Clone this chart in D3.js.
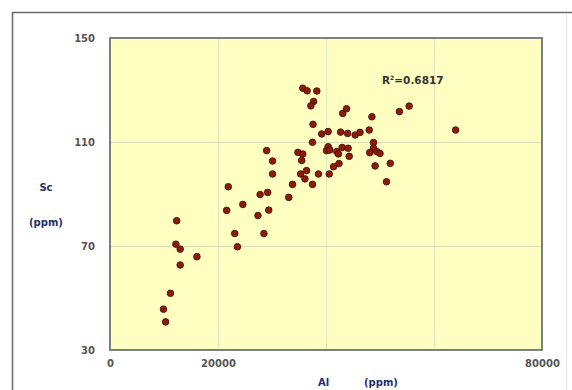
<!DOCTYPE html>
<html>
<head>
<meta charset="utf-8">
<script src="https://cdn.jsdelivr.net/npm/d3@7"></script>
<style>
  html, body { margin: 0; padding: 0; background: #ffffff; }
  svg { display: block; }
</style>
</head>
<body>
<svg id="chart" width="572" height="390"></svg>
<script>
// ---- Data ----
const alPpm = [9900, 10300, 11200, 12350, 12200, 13000, 13000, 16100,
  21900, 21600, 24600, 23100, 23600, 27400, 28500, 27800, 29200, 29400,
  33100, 33800, 30100, 30100, 29000, 34800, 35700, 36500, 38300, 37700,
  37200, 43800, 43100, 48500, 53600, 55400, 64000, 37600, 40400, 39200,
  42700, 44000, 45400, 46300, 48000, 37500, 40400, 40100, 40700, 43000,
  44100, 42000, 48800, 48800, 48100, 49400, 50000, 35700, 35500, 42300,
  44300, 41400, 42400, 49100, 51900, 36400, 35300, 36100, 38600, 40600,
  51200, 37500];
const scPpm = [45.7, 40.8, 51.8, 79.7, 70.7, 68.8, 62.7, 65.9,
  92.8, 83.7, 86.0, 74.8, 69.7, 81.7, 74.8, 89.8, 90.6, 83.8,
  88.7, 93.7, 97.7, 102.7, 106.7, 106.0, 130.7, 129.7, 129.6, 125.6,
  123.9, 122.8, 121.0, 119.7, 121.7, 123.8, 114.6, 116.8, 114.0, 113.1,
  113.8, 113.3, 112.7, 113.7, 114.6, 109.9, 108.2, 106.7, 106.9, 107.9,
  107.6, 106.3, 109.8, 107.6, 105.9, 106.3, 105.6, 105.4, 102.9, 105.4,
  104.5, 100.5, 101.7, 100.8, 101.8, 99.0, 97.7, 95.8, 97.7, 97.7,
  94.7, 93.7];
const xTickValues = [0, 20000, 40000, 60000, 80000];
const xTickLabels = ["0", "20000", "", "", "80000"];
const yTickValues = [30, 70, 110, 150];
const rSquaredText = "0.6817";

// ---- Layout ----
const svg = d3.select("#chart");
const plot = { left: 110, top: 38, right: 542, bottom: 350 };

const x = d3.scaleLinear().domain([0, 80000]).range([plot.left, plot.right]);
const y = d3.scaleLinear().domain([30, 150]).range([plot.bottom, plot.top]);

// outer frame
svg.append("rect").attr("x", 0).attr("y", 0).attr("width", 572).attr("height", 390).attr("fill", "#ffffff");
svg.append("line").attr("x1", 12).attr("x2", 572).attr("y1", 12.5).attr("y2", 12.5)
  .attr("stroke", "#6a6a6a").attr("stroke-width", 1.5);
svg.append("line").attr("x1", 12.5).attr("x2", 12.5).attr("y1", 12).attr("y2", 390)
  .attr("stroke", "#6a6a6a").attr("stroke-width", 1.5);
svg.append("line").attr("x1", 566.5).attr("x2", 566.5).attr("y1", 14).attr("y2", 390)
  .attr("stroke", "#e6e6e6").attr("stroke-width", 1);

// plot background
svg.append("rect")
  .attr("x", plot.left).attr("y", plot.top)
  .attr("width", plot.right - plot.left).attr("height", plot.bottom - plot.top)
  .attr("fill", "#ffffc2");

// gridlines
const grid = svg.append("g");
grid.selectAll(".hg").data(yTickValues.filter(v => v > 30 && v < 150)).enter()
  .append("line")
  .attr("x1", plot.left).attr("x2", plot.right)
  .attr("y1", d => y(d) + 0.5).attr("y2", d => y(d) + 0.5)
  .attr("stroke", "#dcdcb4").attr("stroke-width", 1);
grid.selectAll(".vg").data(xTickValues.filter(v => v > 0 && v < 80000)).enter()
  .append("line")
  .attr("y1", plot.top).attr("y2", plot.bottom)
  .attr("x1", d => x(d) + 0.5).attr("x2", d => x(d) + 0.5)
  .attr("stroke", "#e2e4bc").attr("stroke-width", 1);

// axes (labels only, lines drawn as frame)
const xAxis = d3.axisBottom(x).tickValues(xTickValues)
  .tickFormat((d, i) => xTickLabels[i]).tickSize(0).tickPadding(10);
const gx = svg.append("g").attr("transform", `translate(0,${plot.bottom})`).call(xAxis);
gx.select(".domain").remove();
gx.selectAll("text").attr("font-family", "DejaVu Sans, Verdana, sans-serif")
  .attr("font-size", 10).attr("font-weight", "bold").attr("fill", "#555555");

const yAxis = d3.axisLeft(y).tickValues(yTickValues).tickFormat(d3.format("d"))
  .tickSize(0).tickPadding(15);
const gy = svg.append("g").attr("transform", `translate(${plot.left},0)`).call(yAxis);
gy.select(".domain").remove();
gy.selectAll("text").attr("font-family", "DejaVu Sans, Verdana, sans-serif")
  .attr("font-size", 10).attr("font-weight", "bold").attr("fill", "#555555");

// plot border
svg.append("rect")
  .attr("x", plot.left).attr("y", plot.top)
  .attr("width", plot.right - plot.left).attr("height", plot.bottom - plot.top)
  .attr("fill", "none").attr("stroke", "#6c7470").attr("stroke-width", 1.8);

// points
const pts = alPpm.map((v, i) => ({ al: v, sc: scPpm[i] }));
svg.append("g").selectAll("circle").data(pts).enter()
  .append("circle")
  .attr("cx", d => x(d.al)).attr("cy", d => y(d.sc))
  .attr("r", 3.3)
  .attr("fill", "#8e1a0a").attr("stroke", "#4a1206").attr("stroke-width", 0.9);

// R² annotation
const rt = svg.append("text").attr("x", 382).attr("y", 84)
  .attr("font-family", "DejaVu Sans, Verdana, sans-serif").attr("font-size", 10.5)
  .attr("font-weight", "bold").attr("fill", "#333333");
rt.append("tspan").text("R");
rt.append("tspan").attr("dy", -4).attr("font-size", 6).text("2");
rt.append("tspan").attr("dy", 4).text("=" + rSquaredText);

// axis titles
const titleFont = "DejaVu Sans, Verdana, sans-serif";
svg.append("text").attr("x", 46).attr("y", 191).attr("text-anchor", "middle")
  .attr("font-family", titleFont).attr("font-size", 10).attr("font-weight", "bold")
  .attr("fill", "#243070").text("Sc");
svg.append("text").attr("x", 46).attr("y", 226).attr("text-anchor", "middle")
  .attr("font-family", titleFont).attr("font-size", 10).attr("font-weight", "bold")
  .attr("fill", "#243070").text("(ppm)");
svg.append("text").attr("x", 318).attr("y", 386)
  .attr("font-family", titleFont).attr("font-size", 10).attr("font-weight", "bold")
  .attr("fill", "#243070").text("Al");
svg.append("text").attr("x", 364).attr("y", 386)
  .attr("font-family", titleFont).attr("font-size", 10).attr("font-weight", "bold")
  .attr("fill", "#243070").text("(ppm)");
</script>
</body>
</html>
